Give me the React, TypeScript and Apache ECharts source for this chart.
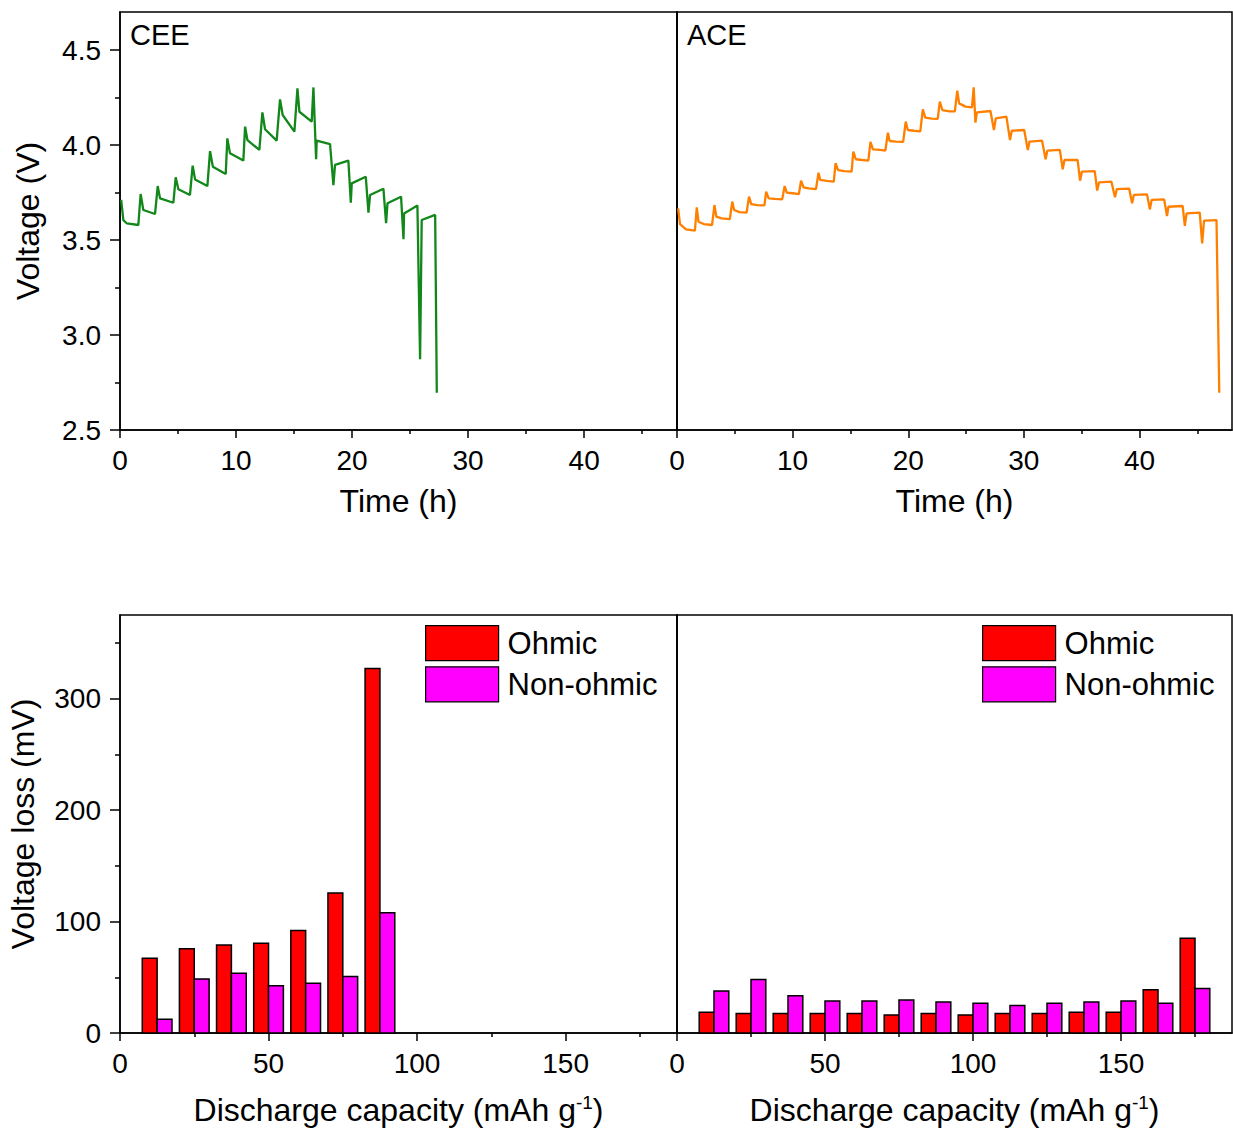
import React, { useEffect, useRef } from "react";
import * as echarts from "echarts";

// ---------- data ----------
// Voltage profile, CEE: [time (h), voltage (V)]
const ceeProfile: [number, number][] = [
  [0.1, 3.711], [0.29, 3.605], [0.6, 3.587], [1.58, 3.579], [1.78, 3.742], [2.01, 3.658],
  [3.02, 3.637], [3.25, 3.784], [3.45, 3.719], [4.6, 3.696], [4.8, 3.83], [5.03, 3.767],
  [6.03, 3.737], [6.26, 3.891], [6.47, 3.819], [7.53, 3.784], [7.76, 3.968], [8.0, 3.886],
  [9.11, 3.847], [9.25, 4.035], [9.48, 3.956], [10.63, 3.918], [10.78, 4.097], [10.98, 4.026],
  [12.01, 3.974], [12.27, 4.172], [12.5, 4.083], [13.5, 4.023], [13.79, 4.24], [14.02, 4.158],
  [15.03, 4.07], [15.29, 4.298], [15.46, 4.175], [16.52, 4.123], [16.67, 4.303], [16.9, 3.925],
  [16.95, 4.023], [18.1, 4.005], [18.39, 3.789], [18.53, 3.895], [19.68, 3.918], [19.89, 3.696],
  [19.97, 3.798], [21.18, 3.833], [21.41, 3.644], [21.55, 3.737], [22.7, 3.77], [22.93, 3.588],
  [23.05, 3.693], [24.22, 3.728], [24.43, 3.504], [24.48, 3.64], [25.63, 3.681], [25.86, 2.872],
  [26.0, 3.605], [27.16, 3.632], [27.3, 2.696],
];

// Voltage profile, ACE: [time (h), voltage (V)]
const aceProfile: [number, number][] = [
  [0.1, 3.667], [0.26, 3.584], [0.78, 3.556], [1.55, 3.549], [1.71, 3.672], [1.86, 3.596],
  [2.32, 3.584], [3.03, 3.579], [3.24, 3.684], [3.4, 3.623], [3.86, 3.614], [4.57, 3.61],
  [4.78, 3.702], [4.94, 3.658], [5.4, 3.647], [6.02, 3.644], [6.23, 3.728], [6.42, 3.689],
  [6.94, 3.684], [7.56, 3.682], [7.71, 3.754], [7.93, 3.719], [8.48, 3.716], [9.1, 3.714],
  [9.31, 3.784], [9.49, 3.749], [10.02, 3.746], [10.54, 3.742], [10.73, 3.812], [10.94, 3.777],
  [11.4, 3.772], [12.02, 3.768], [12.24, 3.854], [12.39, 3.816], [12.94, 3.811], [13.56, 3.807],
  [13.71, 3.904], [13.93, 3.868], [14.48, 3.863], [15.1, 3.86], [15.25, 3.965], [15.47, 3.925],
  [16.02, 3.921], [16.55, 3.918], [16.73, 4.016], [16.95, 3.977], [17.56, 3.974], [18.02, 3.97],
  [18.24, 4.065], [18.39, 4.021], [18.95, 4.018], [19.56, 4.016], [19.78, 4.123], [19.96, 4.079],
  [20.49, 4.075], [21.04, 4.072], [21.26, 4.188], [21.47, 4.144], [22.03, 4.139], [22.55, 4.137],
  [22.73, 4.228], [22.95, 4.184], [23.57, 4.177], [24.03, 4.177], [24.24, 4.286], [24.4, 4.219],
  [24.95, 4.202], [25.51, 4.198], [25.66, 4.303], [25.81, 4.118], [25.94, 4.172], [27.11, 4.179],
  [27.41, 4.079], [27.57, 4.14], [28.49, 4.149], [28.8, 4.026], [28.95, 4.075], [30.03, 4.079],
  [30.34, 3.974], [30.49, 4.018], [31.57, 4.023], [31.88, 3.925], [32.03, 3.97], [33.11, 3.974],
  [33.36, 3.872], [33.51, 3.921], [34.65, 3.921], [34.86, 3.812], [35.02, 3.86], [36.13, 3.863],
  [36.34, 3.76], [36.5, 3.803], [37.57, 3.807], [37.88, 3.725], [38.04, 3.768], [39.11, 3.77],
  [39.36, 3.693], [39.51, 3.737], [40.65, 3.74], [40.9, 3.661], [41.05, 3.711], [42.13, 3.714],
  [42.38, 3.626], [42.5, 3.675], [43.73, 3.679], [43.92, 3.574], [44.07, 3.64], [45.21, 3.644],
  [45.42, 3.482], [45.58, 3.602], [46.66, 3.605], [46.9, 2.696],
];

// Voltage loss bars (mV) vs discharge capacity (mAh/g)
const capacityCEE = [12.5, 25, 37.5, 50, 62.5, 75, 87.5];
const ohmicCEE = [67, 75.5, 79, 80.6, 92, 125.5, 327];
const nonOhmicCEE = [12.3, 48.5, 53.6, 42.5, 44.6, 50.6, 107.8];

const capacityACE = [12.5, 25, 37.5, 50, 62.5, 75, 87.5, 100, 112.5, 125, 137.5, 150, 162.5, 175];
const ohmicACE = [18.6, 17.4, 17.4, 17.4, 17.4, 16.2, 17.4, 16.2, 17.4, 17.4, 18.6, 18.6, 38.9, 85];
const nonOhmicACE = [37.7, 48, 33.5, 28.7, 28.7, 29.6, 27.8, 26.6, 24.6, 26.6, 27.8, 28.7, 26.6, 40];

// Tick labels
const timeTicks = [0, 10, 20, 30, 40];
const voltageTicks = [2.5, 3.0, 3.5, 4.0, 4.5];
const capacityTicks = [0, 50, 100, 150];
const lossTicks = [0, 100, 200, 300];

const seriesNames = ["Ohmic", "Non-ohmic"];
const panelLabels = ["CEE", "ACE"];

// ---------- styles ----------
const FONT = "'Liberation Sans', Arial, Helvetica, sans-serif";
const BLACK = "#000";
const GREEN = "#12871a";
const ORANGE = "#ff8000";
const RED = "#ff0000";
const MAGENTA = "#ff00ff";
const BAR_SPAN = 5; // bar width in capacity units

const lineW = 1.5;

function axisCommon() {
  return {
    axisLine: { show: true, onZero: false, lineStyle: { color: BLACK, width: lineW } },
    splitLine: { show: false },
  };
}

function makeBarSeries(name: string, xIdx: number, xs: number[], ys: number[], color: string, side: number) {
  return {
    type: "custom",
    name,
    xAxisIndex: xIdx,
    yAxisIndex: xIdx,
    itemStyle: { color },
    data: xs.map((x, i) => [x, ys[i]]),
    renderItem: (_p: any, api: any) => {
      const x = api.value(0);
      const y = api.value(1);
      const x0 = side < 0 ? x - BAR_SPAN : x;
      const x1 = side < 0 ? x : x + BAR_SPAN;
      const a = api.coord([x0, y]);
      const b = api.coord([x1, 0]);
      return {
        type: "rect",
        shape: { x: a[0], y: a[1], width: b[0] - a[0], height: b[1] - a[1] },
        style: { fill: color, stroke: BLACK, lineWidth: 1.5 },
      };
    },
  };
}

export default function App() {
  const ref = useRef<HTMLDivElement>(null);

  useEffect(() => {
    if (!ref.current) return;
    const chart = echarts.init(ref.current, undefined, { renderer: "svg" });

    const tickLabel = { fontSize: 28, color: BLACK, fontFamily: FONT };
    const nameStyle = { fontSize: 32, color: BLACK, fontFamily: FONT };

    const timeAxis = (gridIndex: number) => ({
      type: "value",
      gridIndex,
      min: 0,
      max: 48,
      interval: 10,
      ...axisCommon(),
      axisTick: { show: true, length: 8, customValues: timeTicks, lineStyle: { color: BLACK, width: lineW } },
      minorTick: { show: true, splitNumber: 2, length: 4, lineStyle: { color: BLACK, width: lineW } },
      axisLabel: { ...tickLabel, margin: 16, customValues: timeTicks },
      name: "Time (h)",
      nameLocation: "middle",
      nameGap: 55,
      nameTextStyle: nameStyle,
    });

    const capAxis = (gridIndex: number) => ({
      type: "value",
      gridIndex,
      min: 0,
      max: 187.5,
      interval: 50,
      ...axisCommon(),
      axisTick: { show: true, length: 8, customValues: capacityTicks, lineStyle: { color: BLACK, width: lineW } },
      minorTick: { show: true, splitNumber: 2, length: 4, lineStyle: { color: BLACK, width: lineW } },
      axisLabel: { ...tickLabel, margin: 16, customValues: capacityTicks },
      name: "Discharge capacity (mAh g{sup|-1})",
      nameLocation: "middle",
      nameGap: 60,
      nameTextStyle: {
        ...nameStyle,
        rich: {
          sup: { fontSize: 19, fontFamily: FONT, color: BLACK, verticalAlign: "top", padding: [0, 0, 14, 0] },
        },
      },
    });

    const voltAxis = (gridIndex: number, labelled: boolean) => ({
      type: "value",
      gridIndex,
      min: 2.5,
      max: 4.7,
      interval: 0.5,
      ...axisCommon(),
      axisTick: { show: labelled, length: 10, customValues: voltageTicks, lineStyle: { color: BLACK, width: lineW } },
      minorTick: { show: labelled, splitNumber: 2, length: 5, lineStyle: { color: BLACK, width: lineW } },
      axisLabel: {
        show: labelled,
        ...tickLabel,
        margin: 19,
        customValues: voltageTicks,
        formatter: (v: number) => v.toFixed(1),
      },
      name: labelled ? "Voltage (V)" : "",
      nameLocation: "middle",
      nameGap: 76,
      nameTextStyle: nameStyle,
    });

    const lossAxis = (gridIndex: number, labelled: boolean) => ({
      type: "value",
      gridIndex,
      min: 0,
      max: 375,
      interval: 100,
      ...axisCommon(),
      axisTick: { show: labelled, length: 10, customValues: lossTicks, lineStyle: { color: BLACK, width: lineW } },
      minorTick: { show: labelled, splitNumber: 2, length: 5, lineStyle: { color: BLACK, width: lineW } },
      axisLabel: { show: labelled, ...tickLabel, margin: 19, customValues: lossTicks },
      name: labelled ? "Voltage loss (mV)" : "",
      nameLocation: "middle",
      nameGap: 81,
      nameTextStyle: nameStyle,
    });

    const gridBase = { show: true, borderColor: BLACK, borderWidth: lineW, backgroundColor: "transparent", containLabel: false, outerBoundsMode: "none" };

    const legendBase = {
      orient: "vertical",
      top: 620,
      itemWidth: 73,
      itemHeight: 35,
      itemGap: 5,
      icon: "rect",
      selectedMode: false,
      data: seriesNames,
      itemStyle: { borderColor: BLACK, borderWidth: 1.2 },
      textStyle: { fontSize: 31, color: BLACK, fontFamily: FONT, padding: [0, 0, 0, 4] },
    };

    chart.setOption({
      animation: false,
      backgroundColor: "#fff",
      grid: [
        { ...gridBase, left: 120, top: 12, width: 557, height: 418 },
        { ...gridBase, left: 677, top: 12, width: 555, height: 418 },
        { ...gridBase, left: 120, top: 615, width: 557, height: 418 },
        { ...gridBase, left: 677, top: 615, width: 555, height: 418 },
      ],
      xAxis: [timeAxis(0), timeAxis(1), capAxis(2), capAxis(3)],
      yAxis: [voltAxis(0, true), voltAxis(1, false), lossAxis(2, true), lossAxis(3, false)],
      legend: [
        { ...legendBase, left: 420 },
        { ...legendBase, left: 977 },
      ],
      graphic: [
        { type: "text", left: 130, top: 20, style: { text: panelLabels[0], fontSize: 29, fontFamily: FONT, fill: BLACK } },
        { type: "text", left: 687, top: 20, style: { text: panelLabels[1], fontSize: 29, fontFamily: FONT, fill: BLACK } },
      ],
      series: [
        {
          type: "line",
          name: panelLabels[0],
          xAxisIndex: 0,
          yAxisIndex: 0,
          data: ceeProfile,
          showSymbol: false,
          symbol: "none",
          lineStyle: { color: GREEN, width: 2.3 },
          itemStyle: { color: GREEN },
        },
        {
          type: "line",
          name: panelLabels[1],
          xAxisIndex: 1,
          yAxisIndex: 1,
          data: aceProfile,
          showSymbol: false,
          symbol: "none",
          lineStyle: { color: ORANGE, width: 2.3 },
          itemStyle: { color: ORANGE },
        },
        makeBarSeries(seriesNames[0], 2, capacityCEE, ohmicCEE, RED, -1),
        makeBarSeries(seriesNames[1], 2, capacityCEE, nonOhmicCEE, MAGENTA, 1),
        makeBarSeries(seriesNames[0], 3, capacityACE, ohmicACE, RED, -1),
        makeBarSeries(seriesNames[1], 3, capacityACE, nonOhmicACE, MAGENTA, 1),
      ],
    });

    return () => chart.dispose();
  }, []);

  return (
    <div
      ref={ref}
      style={{ position: "absolute", left: 0, top: 0, width: 1233, height: 1130, background: "#fff" }}
    />
  );
}
